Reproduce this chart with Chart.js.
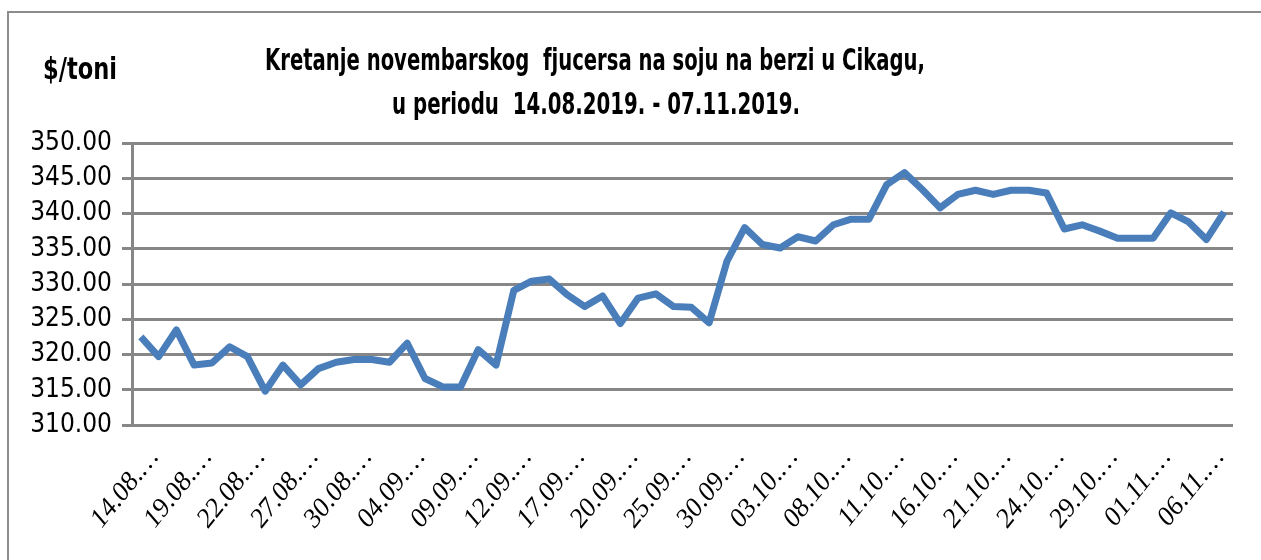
<!DOCTYPE html>
<html lang="sr">
<head>
<meta charset="utf-8">
<script src="https://cdn.jsdelivr.net/npm/chart.js@4.4.1/dist/chart.umd.min.js"></script>
<style>
  html, body { margin: 0; padding: 0; background: #fff; }
  #wrap { width: 1261px; height: 560px; }
</style>
</head>
<body>
<div id="wrap"><canvas id="line-chart" width="1261" height="560"></canvas></div>
<script>
// trading days 14.08.2019 - 07.11.2019
const dates = [
  '14.08.2019.', '15.08.2019.', '16.08.2019.', '19.08.2019.', '20.08.2019.', '21.08.2019.', '22.08.2019.',
  '23.08.2019.', '26.08.2019.', '27.08.2019.', '28.08.2019.', '29.08.2019.', '30.08.2019.', '02.09.2019.',
  '03.09.2019.', '04.09.2019.', '05.09.2019.', '06.09.2019.', '09.09.2019.', '10.09.2019.', '11.09.2019.',
  '12.09.2019.', '13.09.2019.', '16.09.2019.', '17.09.2019.', '18.09.2019.', '19.09.2019.', '20.09.2019.',
  '23.09.2019.', '24.09.2019.', '25.09.2019.', '26.09.2019.', '27.09.2019.', '30.09.2019.', '01.10.2019.',
  '02.10.2019.', '03.10.2019.', '04.10.2019.', '07.10.2019.', '08.10.2019.', '09.10.2019.', '10.10.2019.',
  '11.10.2019.', '14.10.2019.', '15.10.2019.', '16.10.2019.', '17.10.2019.', '18.10.2019.', '21.10.2019.',
  '22.10.2019.', '23.10.2019.', '24.10.2019.', '25.10.2019.', '28.10.2019.', '29.10.2019.', '30.10.2019.',
  '31.10.2019.', '01.11.2019.', '04.11.2019.', '05.11.2019.', '06.11.2019.', '07.11.2019.'
];

// $/toni
const prices = [
  322.5, 319.7, 323.5, 318.5, 318.8, 321.1, 319.7, 314.8, 318.5, 315.7,
  318.0, 318.9, 319.3, 319.3, 318.9, 321.6, 316.6, 315.4, 315.4, 320.7,
  318.5, 329.1, 330.4, 330.7, 328.5, 326.8, 328.3, 324.4, 328.0, 328.6,
  326.8, 326.7, 324.5, 333.2, 338.0, 335.6, 335.1, 336.7, 336.1, 338.4,
  339.2, 339.2, 344.1, 345.8, 343.4, 340.8, 342.7, 343.3, 342.7, 343.3,
  343.3, 342.9, 337.8, 338.4, 337.5, 336.5, 336.5, 336.5, 340.1, 338.8,
  336.3, 340.2
];

const yMin = 310;
const yMax = 350;
const yStep = 5;

const titleLines = [
  'Kretanje novembarskog  fjucersa na soju na berzi u Cikagu,',
  'u periodu  14.08.2019. - 07.11.2019.'
];
const unitLabel = '$/toni';

const GRID = '#878787';
const NARROW = "'Liberation Sans Narrow', 'DejaVu Sans Condensed', sans-serif";

// draws frame, title and unit label (condensed like the original)
const decor = {
  id: 'decor',
  afterDraw(chart) {
    const ctx = chart.ctx;
    ctx.save();
    ctx.strokeStyle = '#8c8c8c';
    ctx.lineWidth = 2;
    ctx.beginPath();
    ctx.moveTo(8, 560);
    ctx.lineTo(8, 12);
    ctx.lineTo(1261, 12);
    ctx.stroke();

    ctx.fillStyle = '#000';
    ctx.textBaseline = 'alphabetic';
    function squeezed(text, cx, baseY, width, font) {
      ctx.font = font;
      const w = ctx.measureText(text).width;
      ctx.save();
      ctx.translate(cx - width / 2, baseY);
      ctx.scale(width / w, 1);
      ctx.textAlign = 'left';
      ctx.fillText(text, 0, 0);
      ctx.restore();
    }
    squeezed(titleLines[0], 595, 70, 660, 'bold 31px ' + NARROW);
    squeezed(titleLines[1], 596, 114, 408, 'bold 31px ' + NARROW);
    squeezed(unitLabel, 80, 79, 74, 'bold 31px ' + NARROW);
    ctx.restore();
  }
};

new Chart(document.getElementById('line-chart'), {
  type: 'line',
  data: {
    labels: dates,
    datasets: [{
      data: prices,
      borderColor: '#4a7ebb',
      borderWidth: 7,
      borderJoinStyle: 'round',
      pointRadius: 0,
      tension: 0,
      fill: false
    }]
  },
  options: {
    responsive: false,
    animation: false,
    layout: { padding: { top: 143, right: 28, left: 0, bottom: 0 } },
    plugins: {
      legend: { display: false },
      title: { display: false },
      tooltip: { enabled: false }
    },
    scales: {
      x: {
        offset: true,
        grid: { display: false, drawTicks: false },
        border: { display: false },
        afterFit(scale) {
          scale.height = 135;
          scale.paddingLeft = 0;
          scale.paddingRight = 0;
        },
        ticks: {
          autoSkip: false,
          minRotation: 51,
          maxRotation: 51,
          labelOffset: 13,
          padding: 18,
          color: '#000',
          font: { family: "'Liberation Serif', serif", style: 'italic', size: 27 },
          callback(value, index) {
            return index % 3 === 0 ? dates[index].slice(0, 6) + '\u2026' : '';
          }
        }
      },
      y: {
        min: yMin,
        max: yMax,
        afterFit(scale) { scale.width = 132; },
        grid: { color: GRID, lineWidth: 3, drawTicks: true, tickLength: 10, tickColor: GRID },
        border: { display: true, color: GRID, width: 3 },
        ticks: {
          stepSize: yStep,
          autoSkip: false,
          padding: 10,
          color: '#000',
          font: { family: NARROW, size: 26 },
          callback(v) { return v.toFixed(2); }
        }
      }
    }
  },
  plugins: [decor]
});
</script>
</body>
</html>
